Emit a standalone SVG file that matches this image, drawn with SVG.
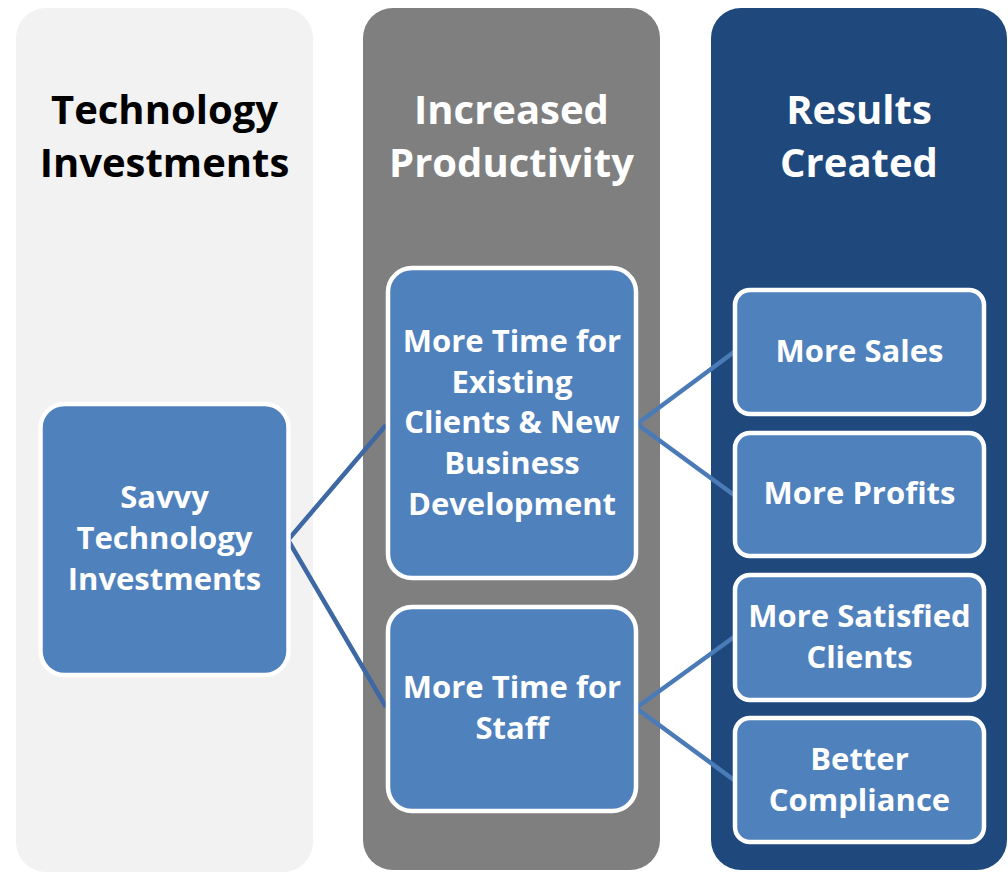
<svg xmlns="http://www.w3.org/2000/svg" width="1008" height="872" viewBox="0 0 1008 872">
  <style>
    .col-light { fill: #f2f2f2; }
    .col-grey { fill: #7f7f7f; }
    .col-blue { fill: #1f497d; }
    .head { font-family: "Open Sans", "Liberation Sans", sans-serif; font-weight: bold; font-size: 40px; text-anchor: middle; }
    .head-dark { fill: #000000; }
    .head-light { fill: #ffffff; }
    .box { fill: #4f81bd; stroke: #ffffff; stroke-width: 4.5; }
    .label { font-family: "Open Sans", "Liberation Sans", sans-serif; font-weight: bold; font-size: 31px; fill: #ffffff; text-anchor: middle; }
    .link { fill: none; stroke-width: 4.5; stroke-linejoin: miter; }
    .link-a { stroke: #3d68a3; }
    .link-b { stroke: #4a7bb7; }
  </style>

  <!-- column backgrounds -->
  <g id="columns">
    <rect class="col-light" x="16" y="8" width="297" height="864" rx="30"/>
    <rect class="col-grey" x="363" y="8" width="297" height="862" rx="30"/>
    <rect class="col-blue" x="711" y="8" width="296" height="862" rx="30"/>
  </g>

  <!-- column headings -->
  <g id="heading-technology">
    <text class="head head-dark" x="164.5" y="124">Technology</text>
    <text class="head head-dark" x="164.5" y="177">Investments</text>
  </g>
  <g id="heading-productivity">
    <text class="head head-light" x="511.5" y="124">Increased</text>
    <text class="head head-light" x="511.5" y="177">Productivity</text>
  </g>
  <g id="heading-results">
    <text class="head head-light" x="859" y="124">Results</text>
    <text class="head head-light" x="859" y="177">Created</text>
  </g>

  <!-- connectors -->
  <g id="connectors">
    <polyline class="link link-a" points="386,425 288,540 386,707"/>
    <polyline class="link link-b" points="734,352 637,424 734,495"/>
    <polyline class="link link-b" points="734,637 636,708 734,780"/>
  </g>

  <!-- nodes -->
  <g id="node-savvy">
    <rect class="box" x="40.5" y="404" width="248" height="271" rx="24"/>
    <text class="label" x="164.5" y="508">Savvy</text>
    <text class="label" x="164.5" y="549">Technology</text>
    <text class="label" x="164.5" y="590">Investments</text>
  </g>

  <g id="node-time-clients">
    <rect class="box" x="388" y="268" width="248" height="310" rx="24"/>
    <text class="label" x="512" y="352">More Time for</text>
    <text class="label" x="512" y="393">Existing</text>
    <text class="label" x="512" y="433">Clients &amp; New</text>
    <text class="label" x="512" y="474">Business</text>
    <text class="label" x="512" y="515">Development</text>
  </g>

  <g id="node-time-staff">
    <rect class="box" x="388" y="607" width="248" height="204" rx="24"/>
    <text class="label" x="512" y="698">More Time for</text>
    <text class="label" x="512" y="739">Staff</text>
  </g>

  <g id="node-sales">
    <rect class="box" x="735" y="290" width="249" height="124" rx="15"/>
    <text class="label" x="859.5" y="362">More Sales</text>
  </g>

  <g id="node-profits">
    <rect class="box" x="735" y="433" width="249" height="123" rx="15"/>
    <text class="label" x="859.5" y="504">More Profits</text>
  </g>

  <g id="node-satisfied">
    <rect class="box" x="735" y="575" width="249" height="125" rx="15"/>
    <text class="label" x="859.5" y="627">More Satisfied</text>
    <text class="label" x="859.5" y="668">Clients</text>
  </g>

  <g id="node-compliance">
    <rect class="box" x="735" y="718" width="249" height="124" rx="15"/>
    <text class="label" x="859.5" y="770">Better</text>
    <text class="label" x="859.5" y="811">Compliance</text>
  </g>
</svg>
